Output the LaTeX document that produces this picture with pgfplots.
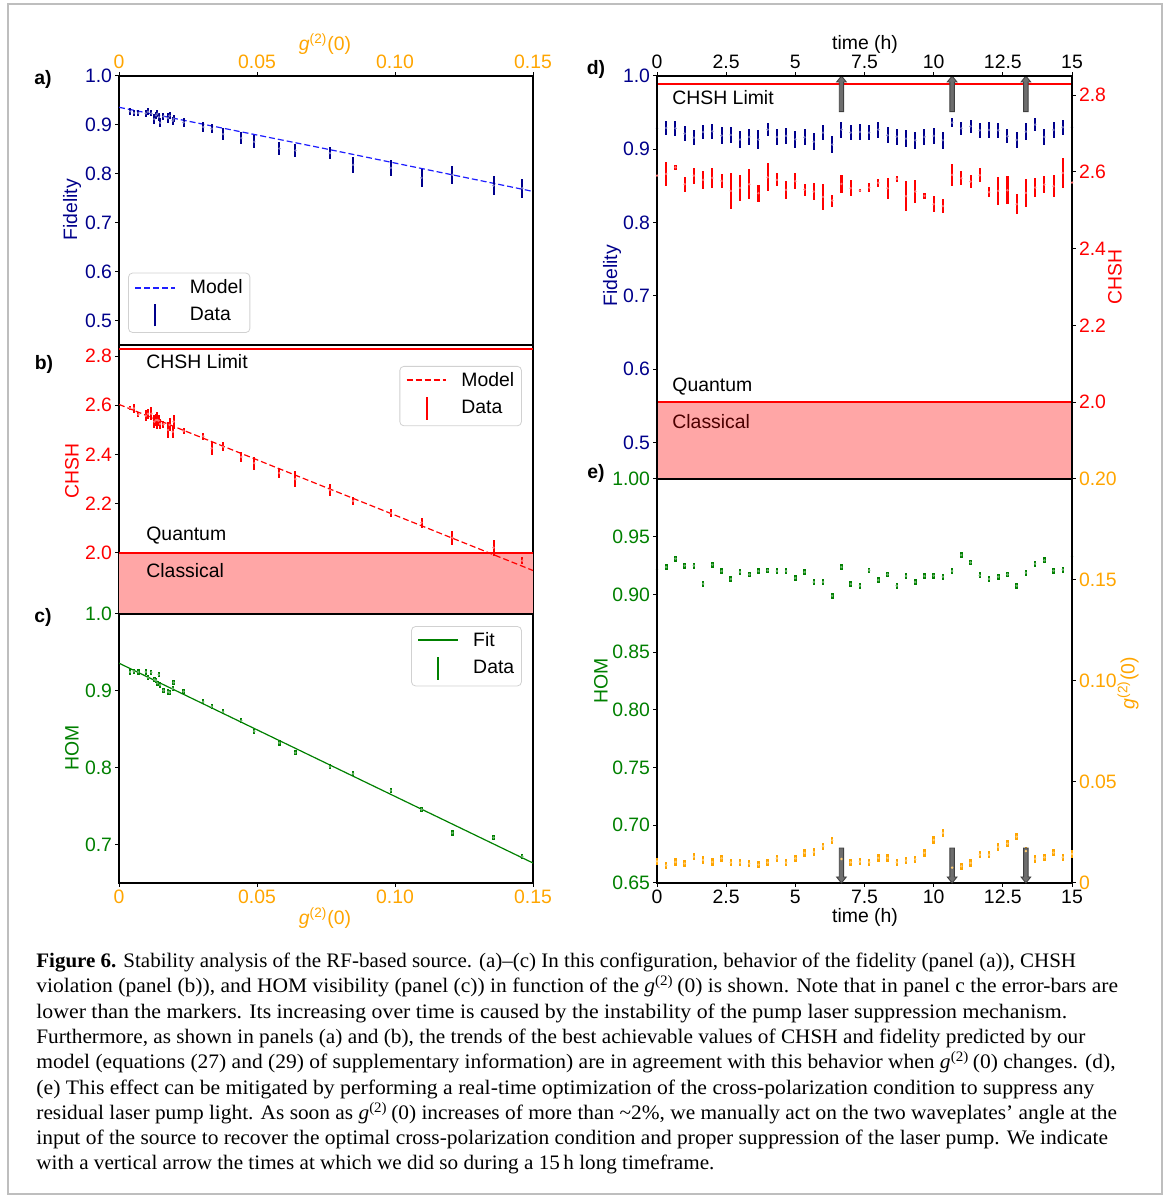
\documentclass[border=0pt]{standalone}
\usepackage{fontspec}
\setmainfont{Liberation Sans}
\newfontfamily\capfont{Liberation Serif}
\usepackage{pgfplots}
\usepackage{pgfplotstable}
\pgfplotsset{compat=1.18}
\definecolor{fidblue}{RGB}{0,0,139}
\definecolor{modblue}{RGB}{30,30,255}
\definecolor{chred}{RGB}{255,0,0}
\definecolor{homgreen}{RGB}{0,128,0}
\definecolor{gorange}{RGB}{255,165,0}
\definecolor{pinkfill}{RGB}{255,166,166}
\definecolor{framegray}{RGB}{190,190,190}
\definecolor{arrgray}{RGB}{110,110,110}
\newcommand{\fs}{\fontsize{9.7}{11.5}\selectfont}
\newcommand{\gtwo}{\textit{g}\textsuperscript{(2)}(0)}
\newcommand{\cgtwo}{{\itshape g}\textsuperscript{(2)}\,(0)}

\pgfplotstableread{
t F Fe S Se H He G Ge
0.000 0.9286 0.0020 2.5905 0.0030 0.9217 0.0025 0.0107 0.0018
0.333 0.9291 0.0095 2.5948 0.0320 0.9237 0.0025 0.0087 0.0018
0.667 0.9286 0.0100 2.6121 0.0070 0.9309 0.0025 0.0104 0.0018
1.000 0.9213 0.0104 2.5680 0.0190 0.9249 0.0025 0.0097 0.0018
1.333 0.9159 0.0104 2.5905 0.0210 0.9249 0.0025 0.0130 0.0018
1.667 0.9236 0.0091 2.5792 0.0225 0.9092 0.0025 0.0114 0.0018
2.000 0.9245 0.0104 2.5844 0.0260 0.9257 0.0025 0.0104 0.0018
2.333 0.9186 0.0118 2.5766 0.0190 0.9202 0.0025 0.0122 0.0018
2.667 0.9195 0.0109 2.5506 0.0470 0.9133 0.0025 0.0101 0.0018
3.000 0.9132 0.0118 2.5584 0.0340 0.9194 0.0025 0.0101 0.0018
3.333 0.9168 0.0114 2.5680 0.0390 0.9173 0.0025 0.0096 0.0018
3.667 0.9132 0.0127 2.5446 0.0217 0.9202 0.0025 0.0091 0.0018
4.000 0.9268 0.0091 2.5861 0.0360 0.9208 0.0025 0.0101 0.0018
4.333 0.9168 0.0109 2.5792 0.0170 0.9202 0.0025 0.0122 0.0018
4.667 0.9182 0.0114 2.5532 0.0240 0.9202 0.0025 0.0101 0.0018
5.000 0.9136 0.0118 2.5758 0.0210 0.9142 0.0025 0.0122 0.0018
5.333 0.9163 0.0109 2.5541 0.0156 0.9194 0.0025 0.0149 0.0018
5.667 0.9104 0.0114 2.5489 0.0230 0.9107 0.0025 0.0153 0.0018
6.000 0.9227 0.0100 2.5350 0.0340 0.9107 0.0025 0.0182 0.0018
6.333 0.9064 0.0118 2.5255 0.0156 0.8988 0.0025 0.0211 0.0018
6.667 0.9268 0.0109 2.5688 0.0230 0.9237 0.0025 0.0119 0.0018
7.000 0.9227 0.0104 2.5576 0.0210 0.9090 0.0025 0.0102 0.0018
7.333 0.9236 0.0104 2.5515 0.0050 0.9075 0.0025 0.0106 0.0018
7.667 0.9227 0.0104 2.5593 0.0110 0.9208 0.0025 0.0102 0.0018
8.000 0.9268 0.0109 2.5714 0.0110 0.9124 0.0025 0.0124 0.0018
8.333 0.9191 0.0109 2.5576 0.0270 0.9173 0.0025 0.0124 0.0018
8.667 0.9173 0.0109 2.5818 0.0087 0.9075 0.0025 0.0102 0.0018
9.000 0.9145 0.0118 2.5368 0.0390 0.9159 0.0025 0.0111 0.0018
9.333 0.9123 0.0118 2.5489 0.0290 0.9107 0.0025 0.0117 0.0018
9.667 0.9168 0.0109 2.5376 0.0078 0.9159 0.0025 0.0149 0.0018
10.000 0.9182 0.0109 2.5160 0.0210 0.9162 0.0025 0.0213 0.0018
10.333 0.9123 0.0118 2.5108 0.0180 0.9153 0.0025 0.0248 0.0018
10.667 0.9363 0.0064 2.5922 0.0290 0.9202 0.0025 0.0076 0.0018
11.000 0.9286 0.0091 2.5835 0.0180 0.9341 0.0025 0.0083 0.0018
11.333 0.9313 0.0091 2.5749 0.0180 0.9277 0.0025 0.0099 0.0018
11.667 0.9259 0.0104 2.5913 0.0180 0.9165 0.0025 0.0140 0.0018
12.000 0.9263 0.0104 2.5472 0.0130 0.9133 0.0025 0.0140 0.0018
12.333 0.9259 0.0104 2.5506 0.0370 0.9153 0.0025 0.0178 0.0018
12.667 0.9177 0.0095 2.5524 0.0360 0.9173 0.0025 0.0195 0.0018
13.000 0.9127 0.0114 2.5160 0.0260 0.9075 0.0025 0.0229 0.0018
13.333 0.9241 0.0114 2.5454 0.0360 0.9188 0.0025 0.0158 0.0018
13.667 0.9336 0.0091 2.5593 0.0240 0.9266 0.0025 0.0119 0.0018
14.000 0.9168 0.0114 2.5671 0.0230 0.9295 0.0025 0.0127 0.0018
14.333 0.9263 0.0104 2.5628 0.0290 0.9205 0.0025 0.0150 0.0018
14.667 0.9300 0.0100 2.5974 0.0390 0.9214 0.0025 0.0127 0.0018
15.000 0.9300 0.0091 2.5723 0.0310 0.9327 0.0025 0.0144 0.0018
}\tseries

\pgfplotstableread{
g F Fe S Se H He
0.0040 0.9276 0.0068 2.588 0.0095 0.9246 0.0035
0.0054 0.9242 0.0068 2.587 0.0190 0.9254 0.0035
0.0070 0.9242 0.0068 2.562 0.0110 0.9246 0.0035
0.0097 0.9235 0.0075 2.557 0.0230 0.9246 0.0035
0.0105 0.9269 0.0075 2.565 0.0200 0.9172 0.0035
0.0117 0.9235 0.0060 2.565 0.0270 0.9241 0.0035
0.0128 0.9119 0.0096 2.533 0.0270 0.9147 0.0035
0.0134 0.9194 0.0068 2.539 0.0240 0.9134 0.0035
0.0139 0.9228 0.0075 2.539 0.0340 0.9099 0.0035
0.0144 0.9160 0.0075 2.537 0.0230 0.9211 0.0035
0.0149 0.9044 0.0096 2.524 0.0190 0.9078 0.0035
0.0161 0.9174 0.0075 2.522 0.0135 0.9004 0.0035
0.0178 0.9139 0.0096 2.499 0.0310 0.8987 0.0035
0.0183 0.9188 0.0070 2.520 0.0260 0.8978 0.0035
0.0195 0.9085 0.0082 2.492 0.0240 0.9030 0.0035
0.0198 0.9126 0.0070 2.533 0.0280 0.9108 0.0035
0.0234 0.9051 0.0090 2.495 0.0110 0.8991 0.0035
0.0305 0.8955 0.0096 2.473 0.0135 0.8858 0.0035
0.0336 0.8921 0.0096 2.424 0.0260 0.8797 0.0035
0.0377 0.8811 0.0120 2.431 0.0180 0.8728 0.0035
0.0443 0.8730 0.0126 2.389 0.0190 0.8612 0.0035
0.0490 0.8654 0.0130 2.364 0.0270 0.8474 0.0035
0.0581 0.8518 0.0137 2.324 0.0190 0.8323 0.0035
0.0639 0.8477 0.0137 2.299 0.0325 0.8194 0.0035
0.0764 0.8422 0.0126 2.255 0.0230 0.8013 0.0035
0.0848 0.8183 0.0164 2.210 0.0160 0.7922 0.0035
0.0985 0.8122 0.0160 2.161 0.0160 0.7703 0.0035
0.1096 0.7917 0.0180 2.122 0.0200 0.7457 0.0035
0.1208 0.7978 0.0180 2.060 0.0280 0.7151 0.0035
0.1357 0.7760 0.0195 2.020 0.0325 0.7091 0.0035
0.1461 0.7705 0.0190 1.967 0.0135 0.6845 0.0035
}\gsweep

\pgfplotsset{
  base/.style={scale only axis, anchor=south west,
    axis line style={line width=0.6pt, black},
    tick style={line width=0.5pt, black},
    tick align=outside, major tick length=1.8pt,
    every tick label/.append style={font=\fs, inner sep=1.5pt},
    legend cell align=left,
    legend style={font=\fs, draw=black!18, fill=white, rounded corners=2pt,
      inner xsep=3pt, inner ysep=2.6pt, row sep=2.4pt,
      nodes={inner sep=0.6pt},
      /tikz/every odd column/.append style={column sep=6.5pt}}},
  legA/.style={legend image code/.code={\draw[modblue, line width=0.65pt, dash pattern=on 3pt off 1.5pt] (0cm,0cm) -- (0.7cm,0cm);}},
  legB/.style={legend image code/.code={\draw[chred, line width=0.75pt, dash pattern=on 3pt off 1.5pt] (0cm,0.02cm) -- (0.7cm,0.02cm);}},
  legC/.style={legend image code/.code={\draw[homgreen, line width=0.85pt] (0cm,0.02cm) -- (0.7cm,0.02cm);}},
  barA/.style={legend image code/.code={\draw[fidblue, line width=1pt] (0.35cm,-0.2cm) -- (0.35cm,0.2cm);}},
  barB/.style={legend image code/.code={\draw[chred, line width=1pt] (0.35cm,-0.2cm) -- (0.35cm,0.2cm);}},
  barC/.style={legend image code/.code={\draw[homgreen, line width=1pt] (0.35cm,-0.2cm) -- (0.35cm,0.2cm);}},
  ebar/.style 2 args={only marks, color=#1!55, mark=*, mark size=0.38pt,
    mark options={draw=none, fill=#1!55},
    error bars/y dir=both, error bars/y explicit, error bars/error mark=none,
    error bars/error bar style={line width=#2, color=#1}},
}

\begin{document}
\begin{tikzpicture}
\path (0,0) rectangle (584pt,599pt);

% ---------------- panel a
\begin{axis}[base, at={(59.5pt,426.5pt)}, width=207pt, height=134.5pt,
  xmin=0, xmax=0.15, ymin=0.45, ymax=1.0,
  xtick={0,0.05,0.1,0.15}, xticklabels={0,0.05,0.10,0.15},
  xtick pos=right, xticklabel pos=right,
  ytick={0.5,0.6,0.7,0.8,0.9,1.0}, yticklabels={0.5,0.6,0.7,0.8,0.9,1.0},
  ytick pos=left,
  xticklabel style={text=gorange}, yticklabel style={text=fidblue},
  legend style={at={(0.022,0.045)}, anchor=south west}]
\addlegendimage{legA}
\addlegendentry{Model}
\addlegendimage{barA}
\addlegendentry{Data}
\addplot[forget plot, modblue, line width=0.6pt, dash pattern=on 3pt off 1.5pt] coordinates {(0,0.936) (0.075,0.851) (0.15,0.764)};
\addplot[forget plot, ebar={fidblue}{1pt}] table[x=g, y=F, y error=Fe] {\gsweep};
\end{axis}

% ---------------- panel b
\begin{axis}[base, at={(59.5pt,292pt)}, width=207pt, height=134.5pt,
  xmin=0, xmax=0.15, ymin=1.75, ymax=2.845,
  xtick=\empty,
  ytick={2.0,2.2,2.4,2.6,2.8}, yticklabels={2.0,2.2,2.4,2.6,2.8},
  ytick pos=left, yticklabel style={text=chred},
  legend style={at={(0.973,0.922)}, anchor=north east}]
\addlegendimage{legB}
\addlegendentry{Model}
\addlegendimage{barB}
\addlegendentry{Data}
\addplot[forget plot, fill=pinkfill, draw=none] coordinates {(0,1.75) (0.15,1.75) (0.15,2.0) (0,2.0)} -- cycle;
\addplot[forget plot, chred, line width=1pt] coordinates {(0,2.0) (0.15,2.0)};
\addplot[forget plot, chred, line width=1pt] coordinates {(0,2.8284) (0.15,2.8284)};
\addplot[forget plot, chred, line width=0.6pt, dash pattern=on 3pt off 1.5pt] coordinates {(0,2.603) (0.15,1.927)};
\addplot[forget plot, ebar={chred}{1pt}] table[x=g, y=S, y error=Se] {\gsweep};
\end{axis}

% ---------------- panel c
\begin{axis}[base, at={(59.5pt,157.5pt)}, width=207pt, height=134.5pt,
  xmin=0, xmax=0.15, ymin=0.65, ymax=1.0,
  xtick={0,0.05,0.1,0.15}, xticklabels={0,0.05,0.10,0.15},
  xtick pos=left, xticklabel pos=left,
  ytick={0.7,0.8,0.9,1.0}, yticklabels={0.7,0.8,0.9,1.0},
  ytick pos=left,
  xticklabel style={text=gorange}, yticklabel style={text=homgreen},
  legend style={at={(0.973,0.955)}, anchor=north east}]
\addlegendimage{legC}
\addlegendentry{Fit}
\addlegendimage{barC}
\addlegendentry{Data}
\addplot[forget plot, homgreen, line width=0.6pt] coordinates {(0,0.936) (0.15,0.676)};
\addplot[forget plot, ebar={homgreen}{1.2pt}] table[x=g, y=H, y error=He] {\gsweep};
\end{axis}

% ---------------- panel d (fidelity, left)
\begin{axis}[base, at={(328.5pt,359.5pt)}, width=207.5pt, height=201.5pt,
  xmin=0, xmax=15, ymin=0.45, ymax=1.0,
  xtick={0,2.5,5,7.5,10,12.5,15}, xticklabels={0,2.5,5,7.5,10,12.5,15},
  xtick pos=right, xticklabel pos=right,
  ytick={0.5,0.6,0.7,0.8,0.9,1.0}, yticklabels={0.5,0.6,0.7,0.8,0.9,1.0},
  ytick pos=left, yticklabel style={text=fidblue}]
\addplot[ebar={fidblue}{1pt}] table[x=t, y=F, y error=Fe] {\tseries};
\end{axis}
% ---------------- panel d (CHSH, right)
\begin{axis}[base, at={(328.5pt,359.5pt)}, width=207.5pt, height=201.5pt,
  xmin=0, xmax=15, ymin=1.8, ymax=2.85, clip=false, axis on top,
  xtick=\empty,
  ytick={2.0,2.2,2.4,2.6,2.8}, yticklabels={2.0,2.2,2.4,2.6,2.8},
  ytick pos=right, yticklabel pos=right, yticklabel style={text=chred}]
\addplot[fill=pinkfill, draw=none] coordinates {(0,1.8) (15,1.8) (15,2.0) (0,2.0)} -- cycle;
\addplot[chred, line width=1pt] coordinates {(0,2.0) (15,2.0)};
\addplot[chred, line width=1pt] coordinates {(0,2.8284) (15,2.8284)};
\addplot[ebar={chred}{1.05pt}] table[x=t, y=S, y error=Se] {\tseries};
\foreach \tt in {6.667,10.667,13.333}{
  \edef\temp{\noexpand\draw[black!75, line width=0.45pt, fill=arrgray]
    ([xshift=-1.1pt]axis cs:\tt,2.757) -- ([xshift=-1.1pt,yshift=-3pt]axis cs:\tt,2.85)
    -- ([xshift=-2.4pt,yshift=-3pt]axis cs:\tt,2.85) -- (axis cs:\tt,2.85)
    -- ([xshift=2.4pt,yshift=-3pt]axis cs:\tt,2.85) -- ([xshift=1.1pt,yshift=-3pt]axis cs:\tt,2.85)
    -- ([xshift=1.1pt]axis cs:\tt,2.757) -- cycle;}
  \temp
}
\end{axis}

% ---------------- panel e (HOM, left)
\begin{axis}[base, at={(328.5pt,157.5pt)}, width=207.5pt, height=202pt,
  xmin=0, xmax=15, ymin=0.65, ymax=1.0,
  xtick={0,2.5,5,7.5,10,12.5,15}, xticklabels={0,2.5,5,7.5,10,12.5,15},
  xtick pos=left, xticklabel pos=left,
  ytick={0.65,0.7,0.75,0.8,0.85,0.9,0.95,1.0},
  yticklabels={0.65,0.70,0.75,0.80,0.85,0.90,0.95,1.00},
  ytick pos=left, yticklabel style={text=homgreen}]
\addplot[ebar={homgreen}{1.3pt}] table[x=t, y=H, y error=He] {\tseries};
\end{axis}
% ---------------- panel e (g2, right)
\begin{axis}[base, at={(328.5pt,157.5pt)}, width=207.5pt, height=202pt,
  xmin=0, xmax=15, ymin=0, ymax=0.2, clip=false,
  xtick=\empty,
  ytick={0,0.05,0.1,0.15,0.2}, yticklabels={0,0.05,0.10,0.15,0.20},
  ytick pos=right, yticklabel pos=right, yticklabel style={text=gorange}]
\addplot[ebar={gorange}{1.2pt}] table[x=t, y=G, y error=Ge] {\tseries};
\foreach \tt in {6.667,10.667,13.333}{
  \edef\temp{\noexpand\draw[black!75, line width=0.45pt, fill=arrgray]
    ([xshift=-1.1pt]axis cs:\tt,0.0173) -- ([xshift=-1.1pt,yshift=3pt]axis cs:\tt,0)
    -- ([xshift=-2.4pt,yshift=3pt]axis cs:\tt,0) -- (axis cs:\tt,0)
    -- ([xshift=2.4pt,yshift=3pt]axis cs:\tt,0) -- ([xshift=1.1pt,yshift=3pt]axis cs:\tt,0)
    -- ([xshift=1.1pt]axis cs:\tt,0.0173) -- cycle;}
  \temp
}
\end{axis}

% ---------------- texts in pixel coordinates
\begin{scope}[x=0.5pt, y=-0.5pt, shift={(0pt,599pt)}]
\draw[framegray, line width=0.8pt] (8,4) rectangle (1162,1194);
\begin{scope}[every node/.style={font=\fs, inner sep=0pt}]
\node[font=\fs\bfseries] at (43,80) {a)};
\node[font=\fs\bfseries] at (44,364) {b)};
\node[font=\fs\bfseries] at (43,617) {c)};
\node[font=\fs\bfseries] at (596,70) {d)};
\node[font=\fs\bfseries] at (596,473) {e)};
\node[rotate=90, text=fidblue] at (72,210) {Fidelity};
\node[rotate=90, text=chred] at (72,471) {CHSH};
\node[rotate=90, text=homgreen] at (72,748) {HOM};
\node[rotate=90, text=fidblue] at (612,276) {Fidelity};
\node[rotate=90, text=homgreen] at (601,681) {HOM};
\node[rotate=90, text=chred] at (1115,277) {CHSH};
\node[rotate=90, text=gorange] at (1128,683) {\gtwo};
\node[text=gorange] at (325,44) {\gtwo};
\node[text=gorange] at (325,918) {\gtwo};
\node at (865,44) {time (h)};
\node at (865,917) {time (h)};
\node[anchor=base west] at (146,369) {CHSH Limit};
\node[anchor=base west] at (146,541) {Quantum};
\node[anchor=base west] at (146,578) {Classical};
\node[anchor=base west] at (672,105) {CHSH Limit};
\node[anchor=base west] at (672,392) {Quantum};
\node[anchor=base west, text=black!70!red] at (672,429) {Classical};
\end{scope}
\begin{scope}[every node/.style={font=\capfont\fontsize{10.3}{12}\selectfont, inner sep=0pt, anchor=base west}]
\node at (36,968) {\scalebox{1.019}[1]{\textbf{Figure 6.} Stability analysis of the RF-based source. (a)–(c) In this configuration, behavior of the fidelity (panel (a)), CHSH}};
\node at (36,993) {\scalebox{1.045}[1]{violation (panel (b)), and HOM visibility (panel (c)) in function of the \cgtwo\ is shown. Note that in panel c the error-bars are}};
\node at (36,1019) {\scalebox{1.058}[1]{lower than the markers. Its increasing over time is caused by the instability of the pump laser suppression mechanism.}};
\node at (36,1044) {\scalebox{1.033}[1]{Furthermore, as shown in panels (a) and (b), the trends of the best achievable values of CHSH and fidelity predicted by our}};
\node at (36,1069) {\scalebox{1.044}[1]{model (equations (27) and (29) of supplementary information) are in agreement with this behavior when \cgtwo\ changes. (d),}};
\node at (36,1095) {\scalebox{1.053}[1]{(e) This effect can be mitigated by performing a real-time optimization of the cross-polarization condition to suppress any}};
\node at (36,1120) {\scalebox{1.037}[1]{residual laser pump light. As soon as \cgtwo\ increases of more than \textasciitilde2\%, we manually act on the two waveplates’ angle at the}};
\node at (36,1145) {\scalebox{1.040}[1]{input of the source to recover the optimal cross-polarization condition and proper suppression of the laser pump. We indicate}};
\node at (36,1170) {\scalebox{1.027}[1]{with a vertical arrow the times at which we did so during a 15\,h long timeframe.}};
\end{scope}
\end{scope}
\pgfresetboundingbox
\useasboundingbox (0,0) rectangle (584pt,599pt);
\end{tikzpicture}
\end{document}
